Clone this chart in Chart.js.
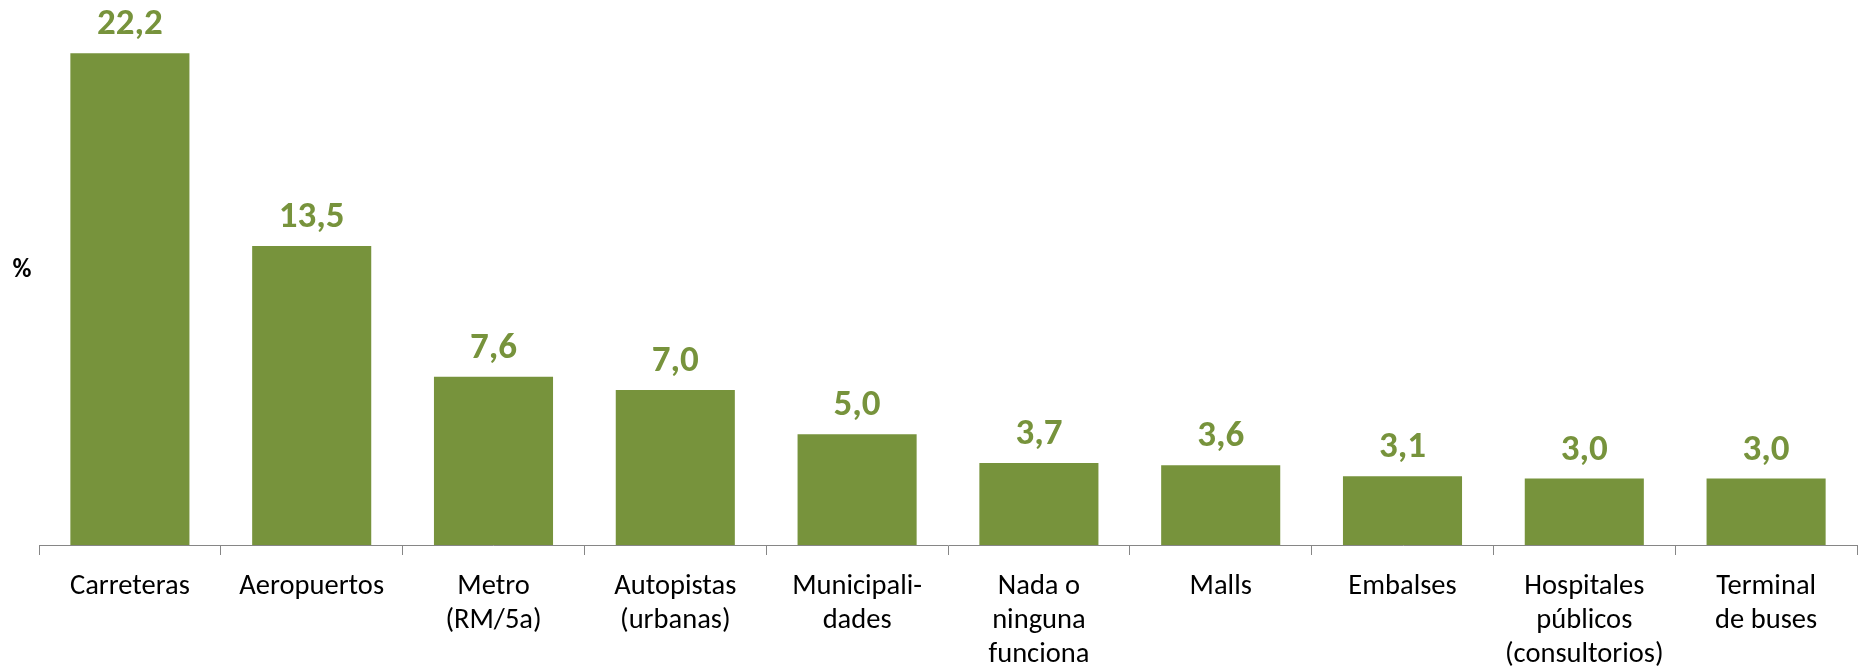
<!DOCTYPE html>
<html>
<head>
<meta charset="utf-8">
<script src="https://cdn.jsdelivr.net/npm/chart.js@4"></script>
<style>
  html, body { margin: 0; padding: 0; background: #fff; }
  #wrap { width: 1859px; height: 668px; position: relative; }
</style>
</head>
<body>
<div id="wrap"><canvas id="bar-chart"></canvas></div>
<script>
const categories = [
  'Carreteras',
  'Aeropuertos',
  ['Metro', '(RM/5a)'],
  ['Autopistas', '(urbanas)'],
  ['Municipali-', 'dades'],
  ['Nada o', 'ninguna', 'funciona'],
  'Malls',
  'Embalses',
  ['Hospitales', 'públicos', '(consultorios)'],
  ['Terminal', 'de buses']
];
const values = [22.2, 13.5, 7.6, 7.0, 5.0, 3.7, 3.6, 3.1, 3.0, 3.0];
const axisTitle = '%';

const green = '#77933C';
const fontFamily = 'Carlito, Calibri, Lato, sans-serif';

// etiquetas de valor sobre cada barra (coma decimal)
const valueLabels = {
  id: 'valueLabels',
  afterDatasetsDraw(chart) {
    const ctx = chart.ctx;
    const meta = chart.getDatasetMeta(0);
    ctx.save();
    ctx.fillStyle = green;
    ctx.font = `bold 37px ${fontFamily}`;
    ctx.textAlign = 'center';
    ctx.textBaseline = 'alphabetic';
    meta.data.forEach((bar, i) => {
      ctx.fillText(values[i].toFixed(1).replace('.', ','), bar.x, bar.y - 19);
    });
    ctx.restore();
  }
};

// el "%" horizontal a la izquierda
const sideTitle = {
  id: 'sideTitle',
  afterDraw(chart) {
    const ctx = chart.ctx;
    ctx.save();
    ctx.fillStyle = '#000';
    ctx.font = `bold 26px ${fontFamily}`;
    ctx.textAlign = 'center';
    ctx.textBaseline = 'middle';
    ctx.fillText(axisTitle, 22, 270);
    ctx.restore();
  }
};

const ctx = document.getElementById('bar-chart').getContext('2d');
const chart = new Chart(ctx, {
  type: 'bar',
  data: {
    labels: categories,
    datasets: [{
      data: values,
      backgroundColor: green,
      borderWidth: 0,
      categoryPercentage: 1,
      barPercentage: 0.655
    }]
  },
  options: {
    responsive: true,
    maintainAspectRatio: false,
    animation: false,
    layout: { padding: { left: 39, right: 2, top: 0, bottom: 0 } },
    plugins: {
      legend: { display: false },
      tooltip: { enabled: false }
    },
    scales: {
      x: {
        afterFit(scale) { scale.height = 123; },
        grid: {
          offset: true,
          drawOnChartArea: false,
          drawTicks: true,
          tickLength: 10,
          color: '#868686'
        },
        border: { display: true, color: '#868686', width: 1 },
        ticks: {
          autoSkip: false,
          maxRotation: 0,
          minRotation: 0,
          padding: 15,
          color: '#000',
          font: { family: fontFamily, size: 28.5, lineHeight: 1.185 }
        }
      },
      y: {
        display: false,
        min: 0,
        max: 24.6
      }
    }
  },
  plugins: [valueLabels, sideTitle]
});
</script>
</body>
</html>
